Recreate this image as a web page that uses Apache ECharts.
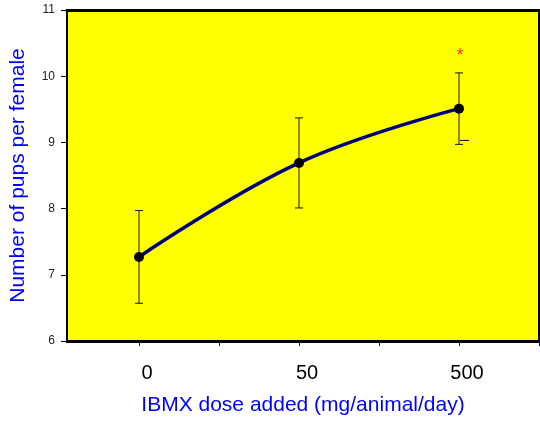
<!DOCTYPE html>
<html>
<head>
<meta charset="utf-8">
<script src="https://cdn.jsdelivr.net/npm/echarts@6/dist/echarts.min.js"></script>
<style>
  html, body { margin: 0; padding: 0; background: #fff; }
  #chart { width: 540px; height: 422px; }
</style>
</head>
<body>
<div id="chart"></div>
<script>
// Dose groups and their plotted positions on the x axis
const doseLabels = ['0', '50', '500'];
const dosePos = [1, 2, 3];
// Mean pups per female and standard deviations
const pupsMean = [7.27, 8.69, 9.51];
const pupsErr = [0.70, 0.68, 0.54];
// Stray short cap beside the 500 group bar
const strayCap = [[3, 9.03]];
// Significance mark above the 500 group
const starMark = [[3, 10.37]];
const yTicks = [6, 7, 8, 9, 10, 11];

const font = '"Liberation Sans", Arial, sans-serif';

const meanData = dosePos.map((x, i) => [x, pupsMean[i]]);
const errData = dosePos.map((x, i) => [x, pupsMean[i] - pupsErr[i], pupsMean[i] + pupsErr[i]]);

const chart = echarts.init(document.getElementById('chart'));
chart.setOption({
  animation: false,
  grid: {
    left: 67, right: 1, top: 10, bottom: 81,
    outerBoundsMode: 'none', containLabel: false,
    show: true, backgroundColor: '#ffff00', borderColor: '#000', borderWidth: 2
  },
  xAxis: [{
    type: 'value', min: 0.55, max: 3.5,
    name: 'IBMX dose added (mg/animal/day)',
    nameLocation: 'middle', nameGap: 54,
    nameTextStyle: { color: '#0000ff', fontSize: 21, fontFamily: font },
    splitLine: { show: false },
    axisLine: { show: true, onZero: false, lineStyle: { color: '#000', width: 3 } },
    axisTick: { show: true, length: 5, lineStyle: { color: '#000', width: 1 },
      customValues: [1, 1.5, 2, 2.5, 3, 3.5] },
    axisLabel: {
      customValues: dosePos,
      formatter: v => doseLabels[dosePos.indexOf(Math.round(v))] || '',
      color: '#000', fontSize: 20, fontFamily: font, margin: 22, padding: [0, 0, 0, 16]
    }
  }, {
    // heavier top frame edge
    type: 'value', position: 'top', min: 0.55, max: 3.5,
    axisLine: { show: true, onZero: false, lineStyle: { color: '#000', width: 3 } },
    axisTick: { show: false }, axisLabel: { show: false }, splitLine: { show: false }
  }],
  yAxis: {
    type: 'value', min: yTicks[0], max: yTicks[yTicks.length - 1], interval: 1,
    name: 'Number of pups per female',
    nameLocation: 'middle', nameGap: 38,
    nameTextStyle: { color: '#0000ff', fontSize: 21, fontFamily: font },
    splitLine: { show: false },
    axisLine: { show: true, lineStyle: { color: '#000', width: 2 } },
    axisTick: { show: true, length: 6, lineStyle: { color: '#000', width: 1 } },
    axisLabel: { color: '#222', fontSize: 12, fontFamily: font, margin: 12 }
  },
  series: [
    {
      type: 'custom',
      z: 2,
      renderItem: (params, api) => {
        const x = api.value(0);
        const lo = api.coord([x, api.value(1)]);
        const hi = api.coord([x, api.value(2)]);
        const w = 4;
        const style = { stroke: '#1a1a00', lineWidth: 1 };
        return {
          type: 'group',
          children: [
            { type: 'line', shape: { x1: lo[0], y1: lo[1], x2: hi[0], y2: hi[1] }, style },
            { type: 'line', shape: { x1: lo[0] - w, y1: lo[1], x2: lo[0] + w, y2: lo[1] }, style },
            { type: 'line', shape: { x1: hi[0] - w, y1: hi[1], x2: hi[0] + w, y2: hi[1] }, style }
          ]
        };
      },
      encode: { x: 0, y: [1, 2] },
      data: errData
    },
    {
      type: 'custom',
      z: 2,
      renderItem: (params, api) => {
        const p = api.coord([api.value(0), api.value(1)]);
        return { type: 'line', shape: { x1: p[0] + 1, y1: p[1], x2: p[0] + 10, y2: p[1] },
          style: { stroke: '#000', lineWidth: 1 } };
      },
      encode: { x: 0, y: 1 },
      data: strayCap
    },
    {
      type: 'line',
      z: 3,
      data: meanData,
      smooth: 0.4,
      symbol: 'circle', symbolSize: 10,
      itemStyle: { color: '#000' },
      lineStyle: { color: '#00007a', width: 3.5 }
    },
    {
      type: 'scatter',
      z: 4,
      data: starMark,
      symbolSize: 0,
      label: { show: true, position: 'inside', formatter: '*', color: '#ff0000',
        fontSize: 18, fontFamily: font, offset: [1, 4] }
    }
  ]
});
</script>
</body>
</html>
